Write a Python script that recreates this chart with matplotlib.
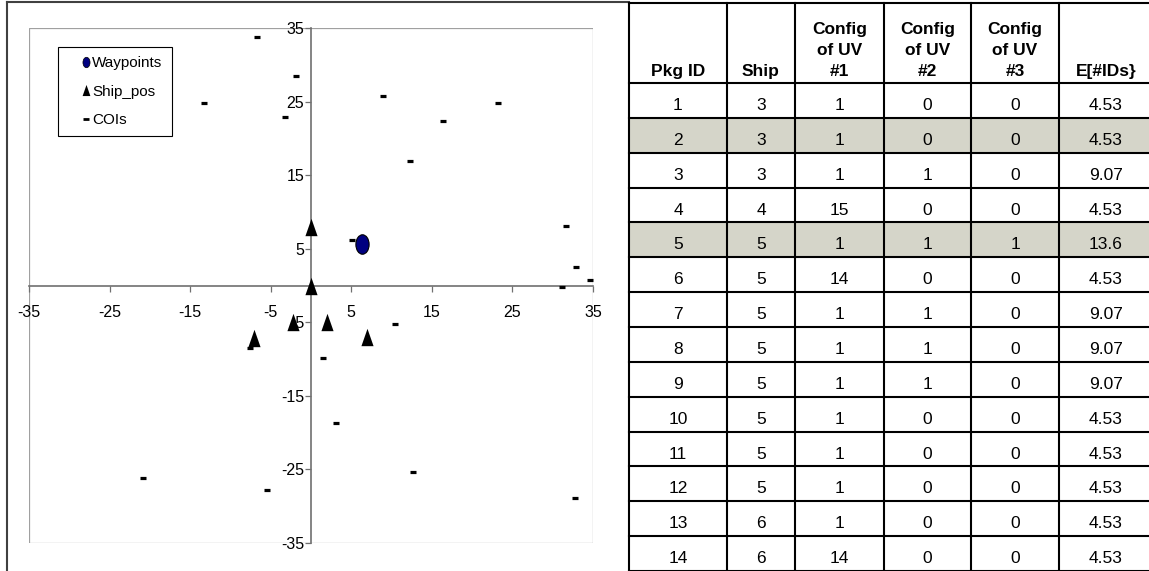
import numpy as np
import matplotlib
matplotlib.use("Agg")
import matplotlib.pyplot as plt
from matplotlib.path import Path
from matplotlib.lines import Line2D
from matplotlib.patches import Rectangle

plt.rcParams['font.family'] = ['Liberation Sans', 'DejaVu Sans']
plt.rcParams['axes.unicode_minus'] = False

# ---- scatter data ----
waypoint_x = [6.3]
waypoint_y = [5.6]
ship_x = [0.0, 0.0, -7.1, -2.2, 2.0, 7.0]
ship_y = [8.0, 0.0, -7.1, -4.9, -4.9, -7.0]
coi_x = [-6.7, -1.9, -13.3, -3.2, 8.9, 16.4, 23.2, 12.3, 31.6, 32.9, 34.6,
         31.1, 5.1, -7.6, -20.9, -5.4, 10.4, 1.5, 3.1, 12.7, 32.8]
coi_y = [33.8, 28.5, 24.8, 22.9, 25.7, 22.3, 24.8, 16.9, 8.1, 2.5, 0.75,
         -0.2, 6.2, -8.5, -26.2, -27.8, -5.3, -9.9, -18.7, -25.4, -28.9]
ticks = [-35, -25, -15, -5, 5, 15, 25, 35]

# ---- table data ----
col_labels = ['Pkg ID', 'Ship', 'Config\nof UV\n#1', 'Config\nof UV\n#2',
              'Config\nof UV\n#3', 'E[#IDs}']
pkg_id = [1, 2, 3, 4, 5, 6, 7, 8, 9, 10, 11, 12, 13, 14]
ship = [3, 3, 3, 4, 5, 5, 5, 5, 5, 5, 5, 5, 6, 6]
uv1 = [1, 1, 1, 15, 1, 14, 1, 1, 1, 1, 1, 1, 1, 14]
uv2 = [0, 0, 1, 0, 1, 0, 1, 1, 1, 0, 0, 0, 0, 0]
uv3 = [0, 0, 0, 0, 1, 0, 0, 0, 0, 0, 0, 0, 0, 0]
e_ids = ['4.53', '4.53', '9.07', '4.53', '13.6', '4.53', '9.07', '9.07',
         '9.07', '4.53', '4.53', '4.53', '4.53', '4.53']
shaded_rows = [2, 5]

W, H = 1149, 571
fig = plt.figure(figsize=(W / 100, H / 100), dpi=100)

# overlay axes in pixel coords for the frame and the table
tax = fig.add_axes([0, 0, 1, 1], zorder=0)
tax.set_xlim(0, W)
tax.set_ylim(H, 0)
tax.axis('off')

# chart frame
tax.plot([7, 7], [2, H + 5], color='#404040', lw=1.5)
tax.plot([7, 629], [2, 2], color='#404040', lw=1.5)

# ---- table ----
col_edges = [629, 727, 795, 884, 971, 1059, 1153]
head_top, head_bot = 3, 83
row_h = (H - head_bot) / len(pkg_id)

for r in shaded_rows:
    y0 = head_bot + (r - 1) * row_h
    tax.add_patch(Rectangle((col_edges[0], y0), col_edges[-1] - col_edges[0], row_h,
                            facecolor='#d5d5c9', edgecolor='none'))

for x in col_edges:
    tax.plot([x, x], [head_top, H + 5], color='black', lw=1.5)
tax.plot([col_edges[0], col_edges[-1]], [head_top, head_top], color='black', lw=1.5)
for k in range(len(pkg_id) + 1):
    y = head_bot + k * row_h
    tax.plot([col_edges[0], col_edges[-1]], [y, y], color='black', lw=1.5)

centers = [(col_edges[i] + col_edges[i + 1]) / 2 for i in range(6)]
for i, lab in enumerate(col_labels):
    tax.text(centers[i], 79, lab, ha='center', va='bottom', fontsize=12.5,
             fontweight='bold', linespacing=1.5)

columns = [pkg_id, ship, uv1, uv2, uv3, e_ids]
for r in range(len(pkg_id)):
    yb = head_bot + r * row_h + 27
    for i, col in enumerate(columns):
        tax.text(centers[i], yb, str(col[r]), ha='center', va='baseline',
                 fontsize=12.5)

# ---- scatter ----
ax = fig.add_axes([29 / W, 1 - 543 / H, (593 - 29) / W, (543 - 28) / H], zorder=1)
ax.set_xlim(-35, 35)
ax.set_ylim(-35, 35)

tri = Path([(-0.7, -1), (0.7, -1), (0, 1), (-0.7, -1)],
           [Path.MOVETO, Path.LINETO, Path.LINETO, Path.CLOSEPOLY])
circ = Path.unit_circle()
ell = Path(circ.vertices * np.array([0.68, 1.0]), circ.codes)

ax.plot(coi_x, coi_y, linestyle='none', marker='_', markersize=4.5,
        markeredgewidth=2.3, color='black', zorder=3)
ax.plot(ship_x, ship_y, linestyle='none', marker=tri, markersize=12.5,
        color='black', markeredgewidth=0, zorder=4)
ax.plot(waypoint_x, waypoint_y, linestyle='none', marker=ell, markersize=14,
        markerfacecolor='#000080', markeredgecolor='black', markeredgewidth=0.8,
        zorder=5)

for s in ['top', 'right']:
    ax.spines[s].set_visible(False)
ax.spines['left'].set_position(('data', 0))
ax.spines['bottom'].set_position(('data', 0))
for s in ['left', 'bottom']:
    ax.spines[s].set_color('#707070')
    ax.spines[s].set_linewidth(1.2)
ax.add_patch(Rectangle((0, 0), 1, 1, transform=ax.transAxes, fill=False,
                       edgecolor='#a0a0a0', lw=0.9, zorder=0))

ax.set_xticks(ticks)
ax.set_yticks(ticks)
ax.tick_params(axis='x', direction='out', length=4.5, width=0.9, color='#707070',
               pad=9.5, labelsize=11.5)
ax.tick_params(axis='y', direction='out', length=4, width=0.9, color='#707070',
               pad=1, labelsize=11.5)

handles = [
    Line2D([], [], linestyle='none', marker=ell, markersize=7.5,
           markerfacecolor='#000080', markeredgecolor='black', markeredgewidth=0.5),
    Line2D([], [], linestyle='none', marker=tri, markersize=8, color='black',
           markeredgewidth=0),
    Line2D([], [], linestyle='none', marker='_', markersize=4, markeredgewidth=2,
           color='black'),
]
leg = fig.legend(handles, ['Waypoints', 'Ship_pos', 'COIs'], loc='upper left',
                 bbox_to_anchor=(58 / W, 1 - 47 / H), borderaxespad=0,
                 fontsize=11, frameon=True, fancybox=False, framealpha=1,
                 edgecolor='black', borderpad=0.6, labelspacing=0.95,
                 handlelength=2.4, handletextpad=-0.75)
leg.get_frame().set_linewidth(0.8)

fig.savefig('out.png', dpi=100)
